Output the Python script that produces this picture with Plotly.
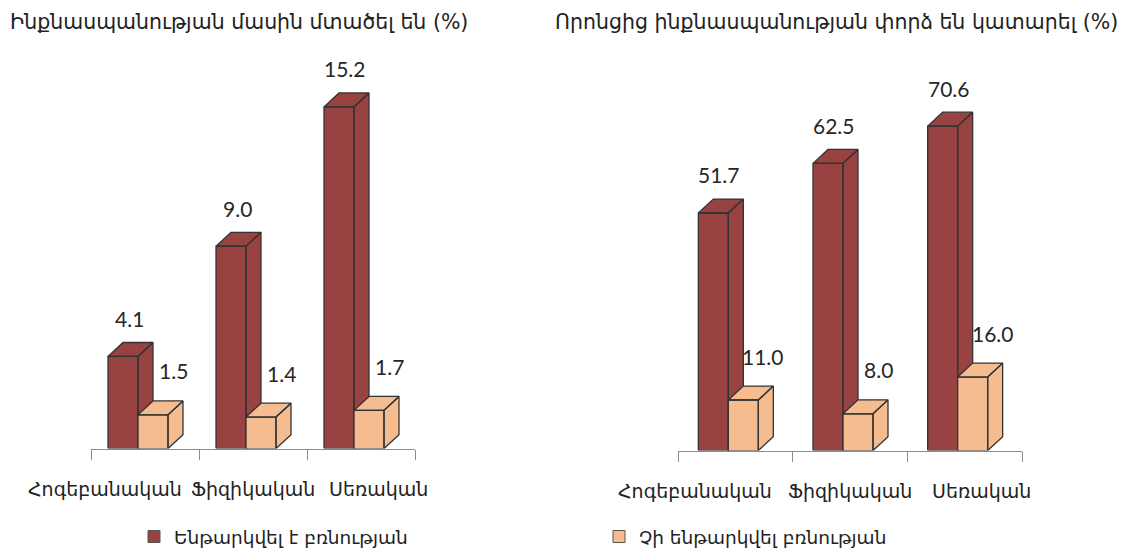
import plotly.graph_objects as go

# ---------------- data ----------------
categories = ["Հոգեբանական", "Ֆիզիկական", "Սեռական"]
series_names = ["Ենթարկվել է բռնության", "Չի ենթարկվել բռնության"]
titles = ["Ինքնասպանության մասին մտածել են (%)", "Որոնցից ինքնասպանության փորձ են կատարել (%)"]
left_abused = [4.1, 9.0, 15.2]
left_not_abused = [1.5, 1.4, 1.7]
right_abused = [51.7, 62.5, 70.6]
right_not_abused = [11.0, 8.0, 16.0]

# ---------------- style ----------------
W, H = 1127, 556
DARK = "#984341"
LIGHT = "#F4BC8F"
EDGE = "#333333"
SERIF = "DejaVu Sans"
NUMF = "Lato"

panels = [
    dict(xpx=(91, 415), base=451, scale=22.6, data=(left_abused, left_not_abused), title=titles[0], tx=239),
    dict(xpx=(678, 1022), base=453, scale=4.62, data=(right_abused, right_not_abused), title=titles[1], tx=836),
]
TOP_PX = 40
FRONT = [(-37, -7), (-7, 23)]
DX, DY = 15, 14
label_shift = [-40, 0, 17]

fig = go.Figure()
layout = dict(width=W, height=H, margin=dict(l=0, r=0, t=0, b=0),
              plot_bgcolor="white", paper_bgcolor="white", showlegend=True)
annotations = []

for p, pn in enumerate(panels):
    xa = "x" if p == 0 else "x2"
    ya = "y" if p == 0 else "y2"
    x0px, x1px = pn["xpx"]
    ppu_x = (x1px - x0px) / 3.0
    ppu_y = pn["scale"]
    ytop = (pn["base"] - TOP_PX) / ppu_y
    key = "" if p == 0 else "2"
    layout["xaxis" + key] = dict(domain=[x0px / W, x1px / W], range=[-0.5, 2.5],
                                 showline=True, linecolor="#8c8c8c", linewidth=1,
                                 ticks="outside", ticklen=10, tickcolor="#8c8c8c",
                                 tickvals=[-0.5, 0.5, 1.5, 2.5], showticklabels=False,
                                 showgrid=False, zeroline=False, anchor=ya, fixedrange=True)
    layout["yaxis" + key] = dict(domain=[(H - pn["base"]) / H, (H - TOP_PX) / H], range=[0, ytop],
                                 visible=False, anchor=xa, fixedrange=True)
    dx = DX / ppu_x
    dy = DY / ppu_y
    for s, vals in enumerate(pn["data"]):
        color = DARK if s == 0 else LIGHT
        xs, ys = [], []
        for i, v in enumerate(vals):
            a = i + FRONT[s][0] / ppu_x
            b = i + FRONT[s][1] / ppu_x
            xs += [a, b, b, a, a, None]
            ys += [0, 0, v, v, 0, None]
            xs += [a, b, b + dx, a + dx, a, None]
            ys += [v, v, v + dy, v + dy, v, None]
            xs += [b, b + dx, b + dx, b, b, None]
            ys += [0, dy, v + dy, v, 0, None]
            cx = (FRONT[s][0] + FRONT[s][1]) / 2
            annotations.append(dict(
                x=i, y=v, xref=xa, yref=ya, text=f"{v:.1f}", showarrow=False,
                xshift=cx + (6 if s == 0 else 20), yshift=DY + (24 if s == 0 else 30),
                font=dict(family=NUMF, size=21, color="#262626")))
        fig.add_trace(go.Scatter(x=xs, y=ys, xaxis=xa, yaxis=ya, mode="lines", fill="toself",
                                 fillcolor=color, line=dict(color=EDGE, width=1.3),
                                 hoverinfo="skip", showlegend=False))
    for i, c in enumerate(categories):
        annotations.append(dict(x=i, y=0, xref=xa, yref=ya, text=c, showarrow=False,
                                xshift=label_shift[i], yshift=-40, yanchor="middle",
                                font=dict(family=SERIF, size=19, color="#222222")))
    annotations.append(dict(x=pn["tx"] / W, y=(H - 22) / H, xref="paper", yref="paper",
                            text=pn["title"], showarrow=False, xanchor="center", yanchor="middle",
                            font=dict(family=SERIF, size=20.5, color="#222222")))

for s, name in enumerate(series_names):
    fig.add_trace(go.Bar(x=[None], y=[None], name=name,
                         marker=dict(color=DARK if s == 0 else LIGHT, line=dict(color="#555555", width=1))))

layout["annotations"] = annotations
layout["legend"] = dict(orientation="h", x=134 / W, y=(H - 540) / H, xanchor="left", yanchor="middle",
                        entrywidth=420, entrywidthmode="pixels", bgcolor="rgba(0,0,0,0)",
                        font=dict(family=SERIF, size=18.5, color="#222222"))
fig.update_layout(**layout)
fig.write_html("out.html", config={"displayModeBar": False},
               post_script="document.body.style.margin='0';document.body.style.overflow='hidden';")
